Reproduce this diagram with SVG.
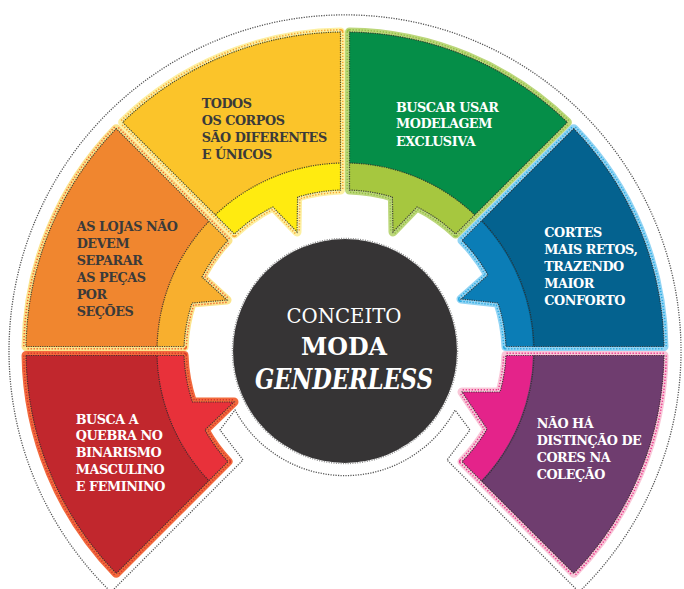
<svg xmlns="http://www.w3.org/2000/svg" xmlns:xlink="http://www.w3.org/1999/xlink" width="684" height="589" viewBox="0 0 684 589">
<style>
.halo{fill:none;stroke-width:9;stroke-linejoin:round}
.dots{fill:none;stroke-width:6;stroke-dasharray:1.3 1.7;stroke-linejoin:round}
.cover{fill:none;stroke-width:3;stroke-linejoin:round}
.stitch{fill:none;stroke:#2d2d2d;stroke-width:1.2;stroke-dasharray:1.2 1.1;opacity:.85}
.lbl{font-family:'DejaVu Serif',serif;font-weight:bold;font-size:12.8px;letter-spacing:-0.45px}
.dk{fill:#3a3a3a}
.wt{fill:#ffffff}
.ctr{font-family:'DejaVu Serif',serif;fill:#ffffff;text-anchor:middle}
</style>
<defs>
<path id="pY" d="M340.5 32.03 A319 319 0 0 0 122.63 122.27 L234.38 234.02 A161 161 0 0 1 272.9 207 L297 232 L297.6 197.1 A161 161 0 0 1 340.5 190.06 Z"/>
<path id="pO" d="M116.27 128.63 A319 319 0 0 0 26.03 346.5 L184.06 346.5 A161 161 0 0 1 192 303 L227 300 L202 277 A161 161 0 0 1 228.02 240.38 Z"/>
<path id="pR" d="M26.03 355.5 A319 319 0 0 0 116.27 573.37 L228.02 461.62 A161 161 0 0 1 205 430 L234 402 L192.5 402 A161 161 0 0 1 184.06 355.5 Z"/>
<path id="pG" d="M349.5 32.03 A319 319 0 0 1 567.37 122.27 L455.62 234.02 A161 161 0 0 0 417.1 207 L393 232 L392.4 197.1 A161 161 0 0 0 349.5 190.06 Z"/>
<path id="pB" d="M573.73 128.63 A319 319 0 0 1 663.97 346.5 L505.94 346.5 A161 161 0 0 0 498 303 L461 299 L488 275 A161 161 0 0 0 461.98 240.38 Z"/>
<path id="pP" d="M663.97 355.5 A319 319 0 0 1 573.73 573.37 L461.98 461.62 A161 161 0 0 0 487 429 L462 392 L500 392 A161 161 0 0 0 505.94 355.5 Z"/>
<clipPath id="cY"><use href="#pY"/></clipPath>
<clipPath id="cO"><use href="#pO"/></clipPath>
<clipPath id="cR"><use href="#pR"/></clipPath>
<clipPath id="cG"><use href="#pG"/></clipPath>
<clipPath id="cB"><use href="#pB"/></clipPath>
<clipPath id="cP"><use href="#pP"/></clipPath>
</defs>
<rect width="684" height="589" fill="#ffffff"/>

<g id="connectors">
<path d="M111 592 A336 336 0 1 1 579 592 L447 460 L470 430 L455 410 A125 125 0 0 1 235 410 L220 430 L243 460 Z" fill="none" stroke="#555" stroke-width="1.3" stroke-dasharray="1.2 1.3"/>
</g>

<g id="node-red">
<use href="#pR" class="halo" stroke="#F26A3D"/>
<use href="#pR" class="dots" stroke="#D9352B"/>
<use href="#pR" class="cover" stroke="#F26A3D"/>
<use href="#pR" fill="#E8313A"/>
<g clip-path="url(#cR)">
<circle cx="345" cy="351" r="260" fill="none" stroke="#C1272D" stroke-width="144"/>
<circle cx="345" cy="351" r="188" class="stitch"/>
</g>
<use href="#pR" class="stitch"/>
<text class="lbl wt"><tspan x="75.7" y="423.5">BUSCA A</tspan><tspan x="75.7" y="440.3">QUEBRA NO</tspan><tspan x="75.7" y="457">BINARISMO</tspan><tspan x="75.7" y="473.7">MASCULINO</tspan><tspan x="75.7" y="490.6">E FEMININO</tspan></text>
</g>

<g id="node-orange">
<use href="#pO" class="halo" stroke="#FBE48C"/>
<use href="#pO" class="dots" stroke="#F0642A"/>
<use href="#pO" class="cover" stroke="#FBE48C"/>
<use href="#pO" fill="#F8AF2E"/>
<g clip-path="url(#cO)">
<circle cx="345" cy="351" r="260" fill="none" stroke="#F0862F" stroke-width="144"/>
<circle cx="345" cy="351" r="188" class="stitch"/>
</g>
<use href="#pO" class="stitch"/>
<text class="lbl dk"><tspan x="76.7" y="231">AS LOJAS NÃO</tspan><tspan x="76.7" y="248">DEVEM</tspan><tspan x="76.7" y="265">SEPARAR</tspan><tspan x="76.7" y="282">AS PEÇAS</tspan><tspan x="76.7" y="298.6">POR</tspan><tspan x="76.7" y="315.6">SEÇÕES</tspan></text>
</g>

<g id="node-yellow">
<use href="#pY" class="halo" stroke="#FDF0A2"/>
<use href="#pY" class="dots" stroke="#F7A530"/>
<use href="#pY" class="cover" stroke="#FDF0A2"/>
<use href="#pY" fill="#FFEB10"/>
<g clip-path="url(#cY)">
<circle cx="345" cy="351" r="260" fill="none" stroke="#FBC42A" stroke-width="144"/>
<circle cx="345" cy="351" r="188" class="stitch"/>
</g>
<use href="#pY" class="stitch"/>
<text class="lbl dk"><tspan x="201.7" y="108.3">TODOS</tspan><tspan x="201.7" y="125">OS CORPOS</tspan><tspan x="201.7" y="141.7">SÃO DIFERENTES</tspan><tspan x="201.7" y="159.2">E ÚNICOS</tspan></text>
</g>

<g id="node-green">
<use href="#pG" class="halo" stroke="#BCD77B"/>
<use href="#pG" class="dots" stroke="#93BF45"/>
<use href="#pG" class="cover" stroke="#BCD77B"/>
<use href="#pG" fill="#A6C73F"/>
<g clip-path="url(#cG)">
<circle cx="345" cy="351" r="260" fill="none" stroke="#058E48" stroke-width="144"/>
<circle cx="345" cy="351" r="188" class="stitch"/>
</g>
<use href="#pG" class="stitch"/>
<text class="lbl wt"><tspan x="396" y="111.7">BUSCAR USAR</tspan><tspan x="396" y="128.4">MODELAGEM</tspan><tspan x="396" y="146">EXCLUSIVA</tspan></text>
</g>

<g id="node-blue">
<use href="#pB" class="halo" stroke="#92D4F4"/>
<use href="#pB" class="dots" stroke="#2AAAE1"/>
<use href="#pB" class="cover" stroke="#92D4F4"/>
<use href="#pB" fill="#0B7DB6"/>
<g clip-path="url(#cB)">
<circle cx="345" cy="351" r="260" fill="none" stroke="#04628F" stroke-width="144"/>
<circle cx="345" cy="351" r="189" class="stitch"/>
</g>
<use href="#pB" class="stitch"/>
<text class="lbl wt"><tspan x="544.3" y="236.7">CORTES</tspan><tspan x="544.3" y="254">MAIS RETOS,</tspan><tspan x="544.3" y="271.2">TRAZENDO</tspan><tspan x="544.3" y="288.3">MAIOR</tspan><tspan x="544.3" y="305">CONFORTO</tspan></text>
</g>

<g id="node-purple">
<use href="#pP" class="halo" stroke="#F9C7D8"/>
<use href="#pP" class="dots" stroke="#E8398D"/>
<use href="#pP" class="cover" stroke="#F9C7D8"/>
<use href="#pP" fill="#E4238A"/>
<g clip-path="url(#cP)">
<circle cx="345" cy="351" r="260" fill="none" stroke="#6F3D6F" stroke-width="144"/>
<circle cx="345" cy="351" r="189" class="stitch"/>
</g>
<use href="#pP" class="stitch"/>
<text class="lbl wt"><tspan x="536.7" y="428.3">NÃO HÁ</tspan><tspan x="536.7" y="445.2">DISTINÇÃO DE</tspan><tspan x="536.7" y="462.3">CORES NA</tspan><tspan x="536.7" y="479.2">COLEÇÃO</tspan></text>
</g>

<g id="node-center">
<circle cx="345" cy="351" r="112" fill="#363435"/>
<circle cx="345" cy="351" r="112.5" fill="none" stroke="#8a8a8a" stroke-width="1.5" stroke-dasharray="1 1.4"/>
<text class="ctr" x="344" y="323.3" font-size="20" textLength="115" lengthAdjust="spacingAndGlyphs">CONCEITO</text>
<text class="ctr" x="344" y="355" font-size="24" font-weight="bold" textLength="86" lengthAdjust="spacingAndGlyphs">MODA</text>
<text class="ctr" x="344" y="388.5" font-size="28" font-weight="bold" font-style="italic" textLength="178" lengthAdjust="spacingAndGlyphs">GENDERLESS</text>
</g>
</svg>
